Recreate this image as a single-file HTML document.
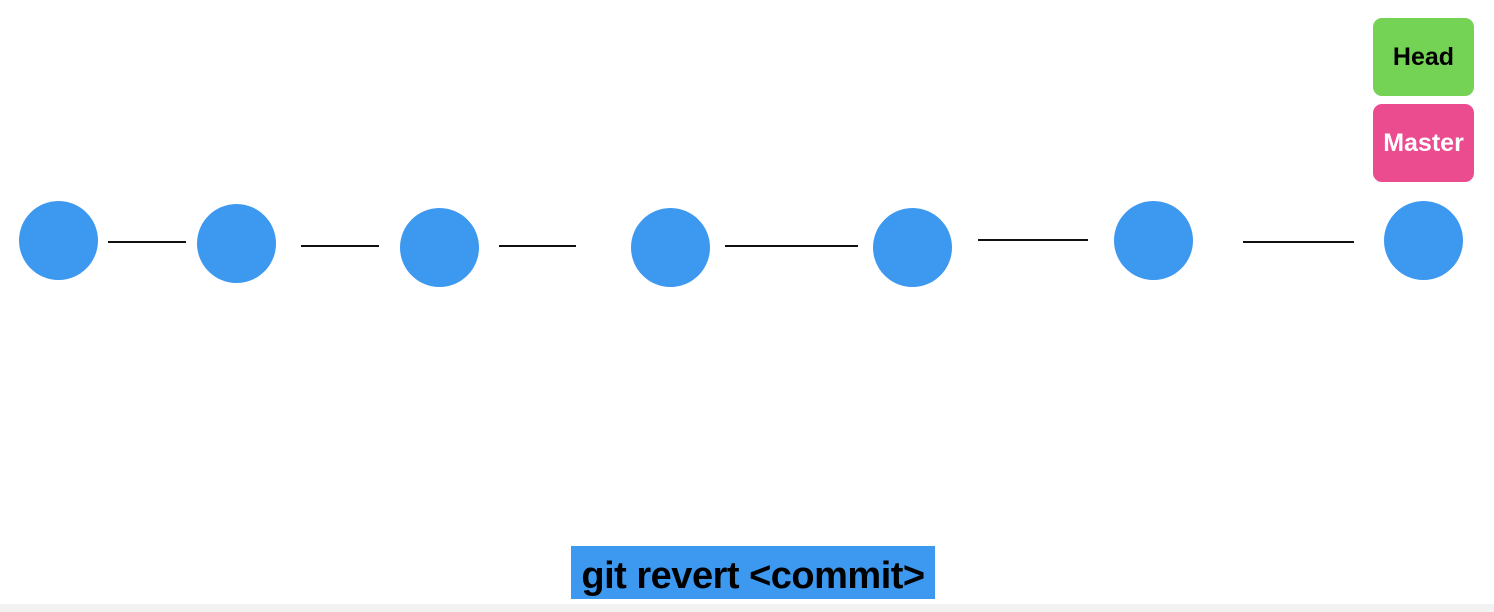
<!DOCTYPE html>
<html><head><style>
body{margin:0;width:1494px;height:612px;background:#fff;position:relative;overflow:hidden;font-family:"Liberation Sans",sans-serif}
.c{position:absolute;width:79px;height:79px;border-radius:50%;background:#3d98f0}
.l{position:absolute;height:2px;background:#111}
.b{position:absolute;left:1373px;width:101px;height:78px;border-radius:9px;display:flex;align-items:center;justify-content:center;font-weight:bold;font-size:25px}
</style></head><body>
<div class="c" style="left:19px;top:201px"></div>
<div class="c" style="left:197px;top:204px"></div>
<div class="c" style="left:400px;top:208px"></div>
<div class="c" style="left:631px;top:208px"></div>
<div class="c" style="left:873px;top:208px"></div>
<div class="c" style="left:1114px;top:201px"></div>
<div class="c" style="left:1384px;top:201px"></div>
<div class="l" style="left:108px;width:78px;top:241px"></div>
<div class="l" style="left:301px;width:78px;top:245px"></div>
<div class="l" style="left:499px;width:77px;top:245px"></div>
<div class="l" style="left:725px;width:133px;top:245px"></div>
<div class="l" style="left:978px;width:110px;top:239px"></div>
<div class="l" style="left:1243px;width:111px;top:241px"></div>
<div class="b" style="top:18px;background:#74d254;color:#000">Head</div>
<div class="b" style="top:104px;background:#ea4c8f;color:#fff">Master</div>
<div style="position:absolute;left:571px;top:546px;width:364px;height:53px;background:#3d98f0;color:#000;font-size:38px;font-weight:bold;line-height:60px;text-align:center;white-space:nowrap;letter-spacing:-0.5px">git revert &lt;commit&gt;</div>
<div style="position:absolute;left:0;top:604px;width:1494px;height:8px;background:#f2f2f2"></div>
</body></html>
